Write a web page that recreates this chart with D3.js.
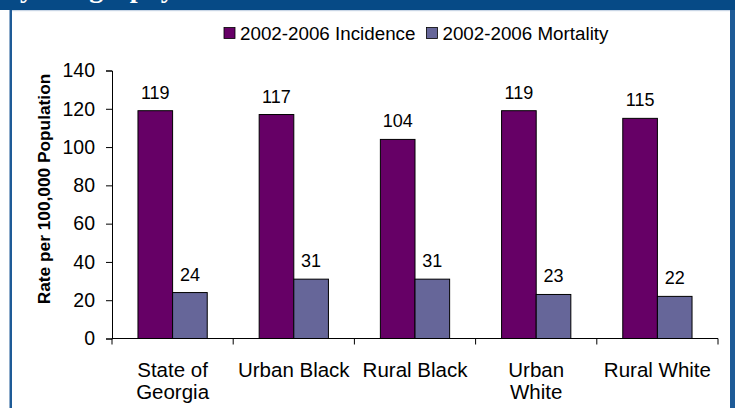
<!DOCTYPE html>
<html>
<head>
<meta charset="utf-8">
<script src="https://cdn.jsdelivr.net/npm/d3@7"></script>
<style>
  html, body { margin: 0; padding: 0; background: #fff; }
  svg { display: block; }
  text { font-family: "Liberation Sans", Arial, sans-serif; fill: #000; }
</style>
</head>
<body>
<script>
// chart data
var categories = [["State of", "Georgia"], ["Urban Black"], ["Rural Black"], ["Urban", "White"], ["Rural White"]];
var seriesNames = ["2002-2006 Incidence", "2002-2006 Mortality"];
var incidence = [119, 117, 104, 119, 115];
var mortality = [24, 31, 31, 23, 22];
var yTicks = [0, 20, 40, 60, 80, 100, 120, 140];
var colors = ["#660066", "#666699"];

var W = 735, H = 408;

var svg = d3.select('body').append('svg')
    .attr('width', W)
    .attr('height', H);

// frame: dark header strip plus side borders
svg.append('rect').attr('x', 0).attr('y', 0).attr('width', W).attr('height', 10).attr('fill', '#064a86');
svg.append('rect').attr('x', 12).attr('y', 10).attr('width', 718).attr('height', 1.2).attr('fill', '#c9d6e6');
svg.append('rect').attr('x', 9.5).attr('y', 10).attr('width', 2.5).attr('height', H - 10).attr('fill', '#1e5b97');
svg.append('rect').attr('x', 730).attr('y', 10).attr('width', 5).attr('height', H - 10).attr('fill', '#1e5b97');

// title bleeding in from the slide above, only its descenders show
svg.append('text')
    .attr('x', 20)
    .attr('y', -3)
    .style('font-family', '"Liberation Serif", "Times New Roman", serif')
    .style('font-weight', 'bold')
    .style('font-size', '28px')
    .style('fill', '#fff')
    .text('y Geography');

var plotL = 112, plotR = 718, plotT = 70.5, plotB = 338.5;

var x = d3.scaleBand()
    .domain(d3.range(categories.length))
    .range([plotL, plotR]);

// gap width 150% -> bars take 2/3.5 of each band
var barW = x.bandwidth() / 3.5;
var x1 = d3.scaleBand()
    .domain([0, 1])
    .range([barW * 0.75, barW * 2.75]);

var y = d3.scaleLinear()
    .domain([0, 140])
    .range([plotB, plotT]);

// y axis
var yAxis = svg.append('g')
    .attr('transform', 'translate(' + plotL + ',0)')
    .call(d3.axisLeft(y).tickValues(yTicks).tickSize(6).tickPadding(11));
yAxis.select('.domain').attr('stroke', '#000');
yAxis.selectAll('.tick line').attr('stroke', '#000');
yAxis.selectAll('.tick text')
    .style('font-size', '19.5px')
    .style('font-family', '"Liberation Sans", Arial, sans-serif')
    .attr('fill', '#000');

// bars
var groups = svg.selectAll('.cat')
    .data(categories)
    .enter()
    .append('g')
    .attr('class', 'cat')
    .attr('transform', function(d, i) { return 'translate(' + x(i) + ',0)'; });

groups.each(function(d, i) {
    var vals = [incidence[i], mortality[i]];
    var g = d3.select(this);
    g.selectAll('rect')
        .data(vals)
        .enter()
        .append('rect')
        .attr('x', function(v, j) { return x1(j); })
        .attr('y', function(v) { return y(v); })
        .attr('width', x1.bandwidth())
        .attr('height', function(v) { return plotB - y(v); })
        .attr('fill', function(v, j) { return colors[j]; })
        .attr('stroke', '#000')
        .attr('stroke-width', 1);
    g.selectAll('.val')
        .data(vals)
        .enter()
        .append('text')
        .attr('class', 'val')
        .attr('x', function(v, j) { return x1(j) + x1.bandwidth() / 2; })
        .attr('y', function(v) { return y(v) - 12; })
        .attr('text-anchor', 'middle')
        .style('font-size', '18px')
        .text(function(v) { return v; });
});

// x axis
var xAxis = svg.append('g')
    .attr('transform', 'translate(0,' + plotB + ')');
xAxis.append('line')
    .attr('x1', plotL).attr('x2', plotR)
    .attr('stroke', '#000');
xAxis.selectAll('.tk')
    .data(d3.range(categories.length + 1))
    .enter()
    .append('line')
    .attr('x1', function(i) { return plotL + i * x.bandwidth(); })
    .attr('x2', function(i) { return plotL + i * x.bandwidth(); })
    .attr('y1', 0).attr('y2', 6)
    .attr('stroke', '#000');

xAxis.selectAll('.lbl')
    .data(categories)
    .enter()
    .append('text')
    .attr('class', 'lbl')
    .attr('text-anchor', 'middle')
    .style('font-size', '20.5px')
    .each(function(lines, i) {
        var t = d3.select(this);
        lines.forEach(function(s, k) {
            t.append('tspan')
                .attr('x', x(i) + x.bandwidth() / 2)
                .attr('y', 38 + k * 22)
                .text(s);
        });
    });

// y title
svg.append('text')
    .attr('transform', 'translate(50,189) rotate(-90)')
    .attr('text-anchor', 'middle')
    .style('font-size', '17.3px')
    .style('font-weight', 'bold')
    .text('Rate per 100,000 Population');

// legend
var lx = 224;
seriesNames.forEach(function(name, j) {
    svg.append('rect')
        .attr('x', lx).attr('y', 27.5)
        .attr('width', 11).attr('height', 11)
        .attr('fill', colors[j])
        .attr('stroke', '#000')
        .attr('stroke-width', 0.8);
    var t = svg.append('text')
        .attr('x', lx + 16)
        .attr('y', 39.5)
        .style('font-size', '18.8px')
        .text(name);
    lx += 16 + t.node().getComputedTextLength() + 11;
});
</script>
</body>
</html>
